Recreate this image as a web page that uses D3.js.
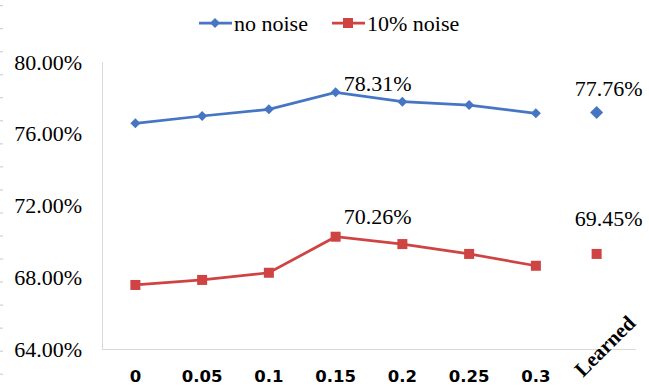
<!DOCTYPE html>
<html>
<head>
<meta charset="utf-8">
<script src="https://cdn.jsdelivr.net/npm/d3@7"></script>
<style>
  body { margin: 0; background: #fff; }
  svg { display: block; }
  .serif { font-family: "Liberation Serif", "Times New Roman", serif; }
  .sansb { font-family: "DejaVu Sans", Verdana, sans-serif; font-weight: bold; }
</style>
</head>
<body>
<div id="my_dataviz"></div>
<script>
var width = 649,
    height = 390

// data
var categories = ["0", "0.05", "0.1", "0.15", "0.2", "0.25", "0.3", "Learned"]
var noNoise = [76.58, 76.99, 77.36, 78.31, 77.79, 77.60, 77.14, 77.19]
var tenNoise = [67.57, 67.85, 68.25, 70.26, 69.85, 69.30, 68.64, 69.30]
var yTicks = [64, 68, 72, 76, 80]
var seriesNames = ["no noise", "10% noise"]
// value labels: [category, text]
var noNoiseLabels = [["0.15", "78.31%"], ["Learned", "77.76%"]]
var tenNoiseLabels = [["0.15", "70.26%"], ["Learned", "69.45%"]]

var blue = "#4676C3",
    red = "#D04343",
    axisGrey = "#d9d9d9"

var plot = { left: 102, right: 636, top: 62, bottom: 349 }

var svg = d3.select("#my_dataviz")
  .append("svg")
    .attr("width", width)
    .attr("height", height)

var x = d3.scalePoint()
  .domain(categories)
  .range([plot.left, plot.right])
  .padding(0.5)

var y = d3.scaleLinear()
  .domain([64, 80])
  .range([plot.bottom, plot.top])

// faint tick column at the left edge of the crop
svg.append("g")
  .selectAll("line")
  .data(d3.range(17))
  .enter()
  .append("line")
    .attr("x1", 0).attr("x2", 3)
    .attr("y1", function(d) { return 5.7 + d * 23.03 })
    .attr("y2", function(d) { return 5.7 + d * 23.03 })
    .attr("stroke", "#c8c8c8")
    .attr("stroke-width", 1)

// axis lines
svg.append("line")
  .attr("x1", plot.left + 0.5).attr("x2", plot.left + 0.5)
  .attr("y1", plot.top).attr("y2", plot.bottom)
  .attr("stroke", axisGrey)
svg.append("line")
  .attr("x1", plot.left).attr("x2", plot.right)
  .attr("y1", plot.bottom + 0.5).attr("y2", plot.bottom + 0.5)
  .attr("stroke", axisGrey)

// y tick labels
svg.append("g")
  .selectAll("text")
  .data(yTicks)
  .enter()
  .append("text")
    .attr("class", "serif")
    .attr("x", 82)
    .attr("y", function(d) { return y(d) })
    .attr("dy", "0.35em")
    .attr("text-anchor", "end")
    .attr("font-size", 22)
    .attr("fill", "#000")
    .text(function(d) { return d.toFixed(2) + "%" })

// x tick labels
svg.append("g")
  .selectAll("text")
  .data(categories.filter(function(c) { return c !== "Learned" }))
  .enter()
  .append("text")
    .attr("class", "sansb")
    .attr("x", function(d) { return x(d) })
    .attr("y", 382)
    .attr("text-anchor", "middle")
    .attr("font-size", 16.5)
    .attr("fill", "#000")
    .text(function(d) { return d })

svg.append("text")
  .attr("class", "serif")
  .attr("transform", "translate(" + (x("Learned") + 2) + ",346) rotate(-45)")
  .attr("text-anchor", "middle")
  .attr("dy", "0.35em")
  .attr("font-weight", "bold")
  .attr("font-size", 21)
  .attr("fill", "#000")
  .text("Learned")

// lines (the Learned point stands alone)
var line = d3.line()
  .x(function(d) { return x(d.cat) })
  .y(function(d) { return y(d.value) })

function toPoints(values) {
  return values.map(function(v, i) { return { cat: categories[i], value: v } })
}

var bluePts = toPoints(noNoise),
    redPts = toPoints(tenNoise)

svg.append("path")
  .datum(bluePts.filter(function(d) { return d.cat !== "Learned" }))
  .attr("d", line)
  .attr("fill", "none")
  .attr("stroke", blue)
  .attr("stroke-width", 2.75)

svg.append("path")
  .datum(redPts.filter(function(d) { return d.cat !== "Learned" }))
  .attr("d", line)
  .attr("fill", "none")
  .attr("stroke", red)
  .attr("stroke-width", 2.75)

// markers
var diamond = function(r) { return "M0," + (-r) + "L" + r + ",0L0," + r + "L" + (-r) + ",0Z" }

svg.append("g")
  .selectAll("path")
  .data(bluePts)
  .enter()
  .append("path")
    .attr("d", function(d) { return diamond(d.cat === "Learned" ? 6.5 : 5) })
    .attr("transform", function(d) {
      var dx = d.cat === "Learned" ? -6 : 0
      return "translate(" + (x(d.cat) + dx) + "," + y(d.value) + ")"
    })
    .attr("fill", blue)

svg.append("g")
  .selectAll("rect")
  .data(redPts)
  .enter()
  .append("rect")
    .attr("x", function(d) { return x(d.cat) - (d.cat === "Learned" ? 11 : 5) })
    .attr("y", function(d) { return y(d.value) - 5 })
    .attr("width", 10)
    .attr("height", 10)
    .attr("fill", red)

// value labels
function addLabels(labels, values) {
  svg.append("g")
    .selectAll("text")
    .data(labels)
    .enter()
    .append("text")
      .attr("class", "serif")
      .attr("x", function(d) { return d[0] === "Learned" ? x(d[0]) - 28 : x(d[0]) + 8 })
      .attr("y", function(d) {
        var v = values[categories.indexOf(d[0])]
        return y(v) - (d[0] === "Learned" ? 15 : 0) - (values === tenNoise ? 13 : 1)
      })
      .attr("font-size", 22)
      .attr("fill", "#000")
      .text(function(d) { return d[1] })
}
addLabels(noNoiseLabels, noNoise)
addLabels(tenNoiseLabels, tenNoise)

// legend
var legend = svg.append("g")
var legendX = [199, 332]
seriesNames.forEach(function(name, i) {
  var lx = legendX[i], ly = 23
  var col = i === 0 ? blue : red
  legend.append("line")
    .attr("x1", lx).attr("x2", lx + 33)
    .attr("y1", ly).attr("y2", ly)
    .attr("stroke", col)
    .attr("stroke-width", 2.75)
  if (i === 0) {
    legend.append("path")
      .attr("d", diamond(5))
      .attr("transform", "translate(" + (lx + 16) + "," + ly + ")")
      .attr("fill", col)
  } else {
    legend.append("rect")
      .attr("x", lx + 11).attr("y", ly - 5)
      .attr("width", 10).attr("height", 10)
      .attr("fill", col)
  }
  legend.append("text")
    .attr("class", "serif")
    .attr("x", lx + 35)
    .attr("y", ly)
    .attr("dy", "0.35em")
    .attr("font-size", 22)
    .attr("fill", "#000")
    .text(name)
})
</script>
</body>
</html>
